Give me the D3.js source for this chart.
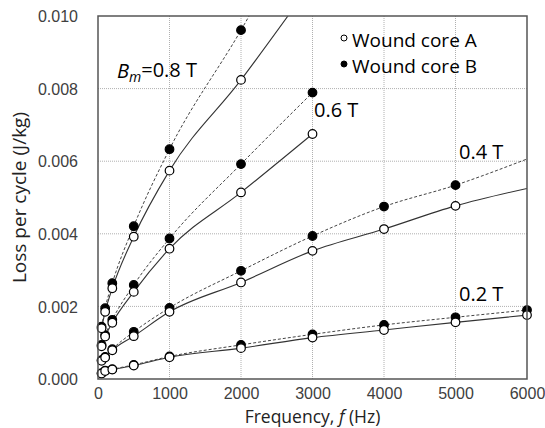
<!DOCTYPE html>
<html>
<head>
<meta charset="utf-8">
<script src="https://cdn.jsdelivr.net/npm/d3@7"></script>
<style>
    body { margin: 0; background: #fff; }
    svg { font-family: 'Open Sans', sans-serif; }
    .tick text { fill: #404040; font-size: 16px; }
    .grid line { stroke: #b0b0b0; stroke-dasharray: 1,1; }
    .frame { fill: none; stroke: #555; stroke-width: 1.5; }
</style>
</head>
<body>
<svg id="chart" width="545" height="428"></svg>
<script>
'use strict';

var f08 = [ 50, 100, 200, 500, 1000, 2000 ];
var a08 = [ 0.00140, 0.00185, 0.00250, 0.00392, 0.00574, 0.00824 ];
var b08 = [ 0.00144, 0.00195, 0.00264, 0.00421, 0.00633, 0.00961 ];

var f06 = [ 50, 100, 200, 500, 1000, 2000, 3000 ];
var a06 = [ 0.00090, 0.00117, 0.00155, 0.00240, 0.00359, 0.00514, 0.00675 ];
var b06 = [ 0.00094, 0.00121, 0.00163, 0.00259, 0.00387, 0.00592, 0.00789 ];

var f04 = [ 50, 100, 200, 500, 1000, 2000, 3000, 4000, 5000 ];
var a04 = [ 0.00050, 0.00059, 0.00079, 0.00118, 0.00185, 0.00266, 0.00353, 0.00413, 0.00477 ];
var b04 = [ 0.00052, 0.00061, 0.00082, 0.00130, 0.00196, 0.00298, 0.00394, 0.00475, 0.00534 ];

var f02 = [ 50, 100, 200, 500, 1000, 2000, 3000, 4000, 5000, 6000 ];
var a02 = [ 0.00015, 0.00022, 0.00026, 0.00037, 0.00060, 0.00085, 0.00114, 0.00135, 0.00156, 0.00176 ];
var b02 = [ 0.00016, 0.00023, 0.00027, 0.00039, 0.00062, 0.00094, 0.00123, 0.00149, 0.00170, 0.00190 ];

// where the fitted lines run on past the last point
var extA08 = [ 2700, 0.01012 ];
var extB08 = [ 2200, 0.01030 ];
var extA04 = [ 6000, 0.00525 ];
var extB04 = [ 6000, 0.00606 ];

var xTicks = [ 0, 1000, 2000, 3000, 4000, 5000, 6000 ];
var yTicks = [ 0, 0.002, 0.004, 0.006, 0.008, 0.010 ];

var box = { left: 98, top: 16, right: 527, bottom: 379 };

var svg = d3.select( '#chart' );

var x = d3.scaleLinear().domain( [ 0, 6000 ] ).range( [ box.left, box.right ] ),
    y = d3.scaleLinear().domain( [ 0, 0.010 ] ).range( [ box.bottom, box.top ] );

function pairs( fs, vs, ext ){
    var out = fs.map( function( f, i ){ return [ f, vs[i] ]; } );
    if ( ext ){
        out.push( ext );
    }
    return out;
}

var series = [
    { pts: pairs( f08, a08 ), line: pairs( f08, a08, extA08 ), core: 'A' },
    { pts: pairs( f08, b08 ), line: pairs( f08, b08, extB08 ), core: 'B' },
    { pts: pairs( f06, a06 ), line: pairs( f06, a06 ), core: 'A' },
    { pts: pairs( f06, b06 ), line: pairs( f06, b06 ), core: 'B' },
    { pts: pairs( f04, a04 ), line: pairs( f04, a04, extA04 ), core: 'A' },
    { pts: pairs( f04, b04 ), line: pairs( f04, b04, extB04 ), core: 'B' },
    { pts: pairs( f02, a02 ), line: pairs( f02, a02 ), core: 'A' },
    { pts: pairs( f02, b02 ), line: pairs( f02, b02 ), core: 'B' }
];

svg.append( 'defs' ).append( 'clipPath' ).attr( 'id', 'plot' )
    .append( 'rect' )
    .attr( 'x', box.left ).attr( 'y', box.top )
    .attr( 'width', box.right - box.left )
    .attr( 'height', box.bottom - box.top );

// grid
svg.append( 'g' ).attr( 'class', 'grid' )
    .selectAll( 'line.v' ).data( xTicks.slice( 1, -1 ) ).enter()
    .append( 'line' )
    .attr( 'x1', x ).attr( 'x2', x )
    .attr( 'y1', box.top ).attr( 'y2', box.bottom );

svg.select( '.grid' )
    .selectAll( 'line.h' ).data( yTicks.slice( 1, -1 ) ).enter()
    .append( 'line' )
    .attr( 'x1', box.left ).attr( 'x2', box.right )
    .attr( 'y1', y ).attr( 'y2', y );

// axes, labels only
var xAxis = svg.append( 'g' )
    .attr( 'transform', 'translate(0,' + ( box.bottom + 6 ) + ')' )
    .call( d3.axisBottom( x ).tickValues( xTicks ).tickSize( 0 ).tickPadding( 3 ).tickFormat( d3.format( 'd' ) ) );

var yAxis = svg.append( 'g' )
    .attr( 'transform', 'translate(' + ( box.left - 20 ) + ',0)' )
    .call( d3.axisLeft( y ).tickValues( yTicks ).tickSize( 0 ).tickPadding( 0 ).tickFormat( d3.format( '.3f' ) ) );

xAxis.select( '.domain' ).remove();
yAxis.select( '.domain' ).remove();
yAxis.selectAll( 'text' ).attr( 'dy', '0.36em' );

// lines
var line = d3.line()
    .x( function( d ){ return x( d[0] ); } )
    .y( function( d ){ return y( d[1] ); } )
    .curve( d3.curveMonotoneX );

var lines = svg.append( 'g' ).attr( 'clip-path', 'url(#plot)' );

series.forEach( function( s ){
    lines.append( 'path' )
        .attr( 'd', line( s.line ) )
        .attr( 'fill', 'none' )
        .attr( 'stroke', s.core === 'A' ? '#333' : '#444' )
        .attr( 'stroke-width', s.core === 'A' ? 1.1 : 1 )
        .attr( 'stroke-dasharray', s.core === 'A' ? null : '3,2' );
});

// markers, B first so A open circles are on top like the original
[ 'B', 'A' ].forEach( function( core ){
    series.filter( function( s ){ return s.core === core; } ).forEach( function( s ){
        svg.append( 'g' ).selectAll( 'circle' ).data( s.pts ).enter()
            .append( 'circle' )
            .attr( 'cx', function( d ){ return x( d[0] ); } )
            .attr( 'cy', function( d ){ return y( d[1] ); } )
            .attr( 'r', 4.3 )
            .attr( 'fill', core === 'A' ? '#fff' : '#000' )
            .attr( 'stroke', '#000' )
            .attr( 'stroke-width', 1.2 );
    });
});

svg.append( 'rect' ).attr( 'class', 'frame' )
    .attr( 'x', box.left ).attr( 'y', box.top )
    .attr( 'width', box.right - box.left )
    .attr( 'height', box.bottom - box.top );

// legend
var legend = [ { label: 'Wound core A', fill: '#fff' }, { label: 'Wound core B', fill: '#000' } ];

legend.forEach( function( l, i ){
    var ly = 40 + i * 26;
    svg.append( 'circle' )
        .attr( 'cx', 344 ).attr( 'cy', ly - 2 ).attr( 'r', 3 )
        .attr( 'fill', l.fill ).attr( 'stroke', '#000' ).attr( 'stroke-width', 1 );
    svg.append( 'text' )
        .attr( 'x', 352 ).attr( 'y', ly ).attr( 'dy', '0.35em' )
        .attr( 'font-size', 19 ).attr( 'fill', '#000' )
        .text( l.label );
});

// flux density labels
var bm = svg.append( 'text' ).attr( 'x', 117 ).attr( 'y', 71 ).attr( 'dy', '0.35em' )
    .attr( 'font-size', 20 );
bm.append( 'tspan' ).attr( 'font-style', 'italic' ).text( 'B' );
bm.append( 'tspan' ).attr( 'font-style', 'italic' ).attr( 'font-size', 14 ).attr( 'dy', '0.3em' ).text( 'm' );
bm.append( 'tspan' ).attr( 'dy', '-0.25em' ).text( '=0.8 T' );

[ [ '0.6 T', 314, 110 ], [ '0.4 T', 459, 152 ], [ '0.2 T', 459, 294 ] ].forEach( function( t ){
    svg.append( 'text' )
        .attr( 'x', t[1] ).attr( 'y', t[2] ).attr( 'dy', '0.35em' )
        .attr( 'font-size', 20 )
        .text( t[0] );
});

// axis titles
var xt = svg.append( 'text' )
    .attr( 'x', ( box.left + box.right ) / 2 ).attr( 'y', 423 )
    .attr( 'text-anchor', 'middle' ).attr( 'font-size', 17.5 ).attr( 'fill', '#222' );
xt.append( 'tspan' ).text( 'Frequency, ' );
xt.append( 'tspan' ).attr( 'font-style', 'italic' ).text( 'f' );
xt.append( 'tspan' ).text( ' (Hz)' );

svg.append( 'text' )
    .attr( 'transform', 'translate(26,' + ( ( box.top + box.bottom ) / 2 ) + ') rotate(-90)' )
    .attr( 'text-anchor', 'middle' ).attr( 'font-size', 19 ).attr( 'fill', '#222' )
    .text( 'Loss per cycle (J/kg)' );
</script>
</body>
</html>
